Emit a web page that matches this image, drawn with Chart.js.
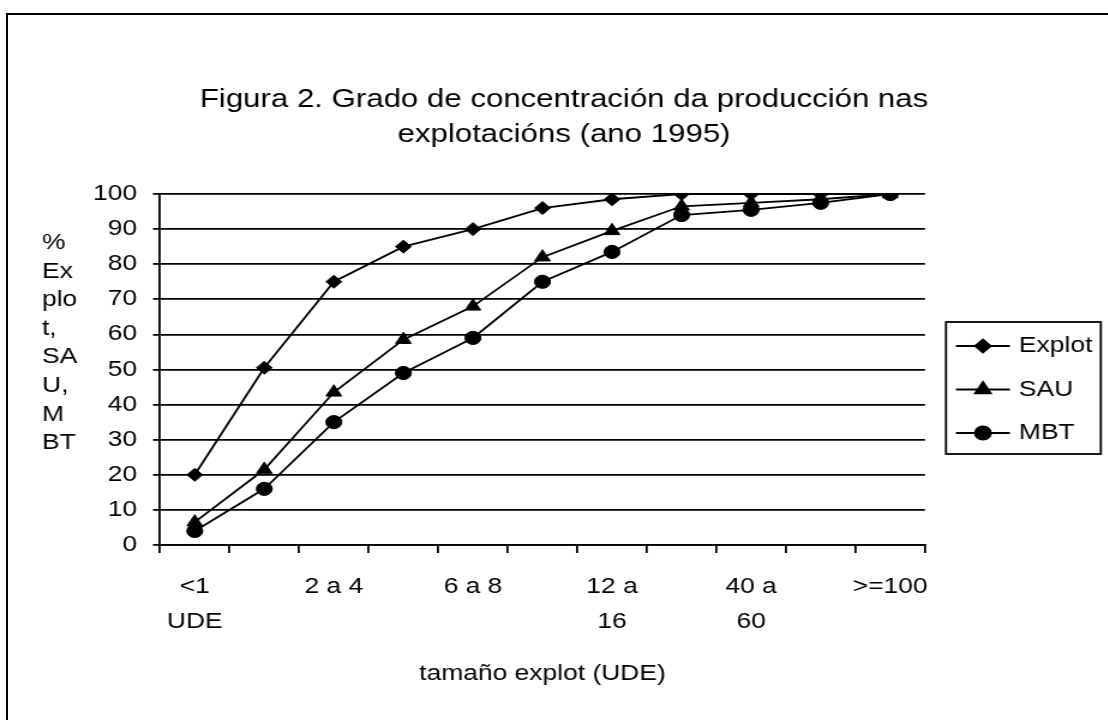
<!DOCTYPE html>
<html>
<head>
<meta charset="utf-8">
<script src="https://cdn.jsdelivr.net/npm/chart.js"></script>
<style>
  html, body { margin: 0; padding: 0; background: #fff; overflow: hidden; }
  #frame { position: absolute; left: 6px; top: 13px; width: 1200px; height: 800px; border: 2px solid #000; box-sizing: border-box; }
  /* the original picture is stretched sideways, so the canvas is too */
  #wrap { position: absolute; left: 0; top: 0; transform: scaleX(1.2); transform-origin: 0 0; }
</style>
</head>
<body>
<div id="frame"></div>
<div id="wrap"><canvas id="canvas" width="940" height="720"></canvas></div>

<script>
// categories (tamaño explot, UDE) - only every other one is labelled in the original
var categories = ['<1 UDE', '1 a 2', '2 a 4', '4 a 6', '6 a 8', '8 a 12', '12 a 16', '16 a 40', '40 a 60', '60 a 100', '>=100'];
var tickLabels = [['<1', 'UDE'], '', '2 a 4', '', '6 a 8', '', ['12 a', '16'], '', ['40 a', '60'], '', '>=100'];

// cumulative %
var explot = [20, 50.5, 75, 85, 90, 96, 98.5, 100, 100, 100, 100];
var sau    = [6.5, 21.5, 43.5, 58.5, 68, 82, 89.5, 96.5, 97.5, 98.5, 100];
var mbt    = [4, 16, 35, 49, 59, 75, 83.5, 94, 95.5, 97.5, 100];

var seriesNames = ['Explot', 'SAU', 'MBT'];
var titleLines = ['Figura 2. Grado de concentración da producción nas', 'explotacións (ano 1995)'];
var yTitleLines = ['%', 'Ex', 'plo', 't,', 'SA', 'U,', 'M', 'BT'];
var xTitle = 'tamaño explot (UDE)';

var FONT = '"Liberation Sans", Arial, sans-serif';

// title centred on the whole picture, legend box with line + marker, stacked y title
var extras = {
  id: 'extras',
  afterDraw: function(chart) {
    var ctx = chart.ctx;
    var ca = chart.chartArea;
    ctx.save();
    ctx.fillStyle = '#000';
    ctx.strokeStyle = '#000';
    ctx.textBaseline = 'middle';

    // title
    ctx.font = '26px ' + FONT;
    ctx.textAlign = 'center';
    titleLines.forEach(function(t, i) {
      ctx.fillText(t, chart.width / 2, 100 + i * 34.5);
    });

    // y title
    ctx.font = '22px ' + FONT;
    ctx.textAlign = 'left';
    yTitleLines.forEach(function(t, i) {
      ctx.fillText(t, 35, 243 + i * 28.6);
    });

    // legend
    var bx = ca.right + 17.5, by = ca.top + 128, bw = 129, bh = 132;
    ctx.lineWidth = 1.8;
    ctx.strokeRect(bx, by, bw, bh);
    chart.data.datasets.forEach(function(ds, i) {
      var y = by + 24 + i * 43.5;
      ctx.lineWidth = 1.8;
      ctx.beginPath();
      ctx.moveTo(bx + 8.3, y);
      ctx.lineTo(bx + 53.3, y);
      ctx.stroke();
      Chart.helpers.drawPoint(ctx, { pointStyle: ds.pointStyle, radius: ds.pointRadius, borderWidth: 1, rotation: 0 }, bx + 30.8, y);
      ctx.fillText(ds.label, bx + 60.8, y);
    });
    ctx.restore();
  }
};

function makeSet(label, data, style, r, order) {
  return {
    label: label,
    data: data,
    order: order,
    borderColor: '#000',
    backgroundColor: '#000',
    borderWidth: 1.8,
    tension: 0,
    pointStyle: style,
    pointRadius: r,
    pointHoverRadius: r,
    pointBackgroundColor: '#000',
    pointBorderColor: '#000',
    pointBorderWidth: 1
  };
}

var ctx = document.getElementById('canvas');
new Chart(ctx, {
  type: 'line',
  data: {
    labels: categories,
    datasets: [
      makeSet(seriesNames[0], explot, 'rectRot', 6.5, 2),
      makeSet(seriesNames[1], sau, 'triangle', 7.5, 1),
      makeSet(seriesNames[2], mbt, 'circle', 6.6, 0)
    ]
  },
  options: {
    responsive: false,
    animation: false,
    layout: { padding: { left: 0, right: 169.2, top: 194, bottom: 0 } },
    plugins: {
      legend: { display: false },
      tooltip: { enabled: false },
      title: { display: false }
    },
    scales: {
      x: {
        offset: true,
        grid: { offset: true, drawOnChartArea: false, color: '#000', lineWidth: 1.8, tickLength: 8 },
        border: { color: '#000', width: 1.8 },
        ticks: {
          autoSkip: false, maxRotation: 0, minRotation: 0, color: '#000', padding: 16.4,
          font: { family: FONT, size: 22, lineHeight: 1.6 },
          callback: function(v, i) { return tickLabels[i]; }
        },
        title: {
          display: true, text: xTitle, color: '#000',
          font: { family: FONT, size: 22, lineHeight: 1.2 },
          padding: { top: 0, bottom: 32.8 }
        },
        afterFit: function(s) { s.height = 175; }
      },
      y: {
        min: 0, max: 100,
        grid: { color: '#000', lineWidth: 1.8, tickLength: 5.8 },
        border: { color: '#000', width: 1.8 },
        ticks: { stepSize: 10, color: '#000', padding: 13.3, font: { family: FONT, size: 22 } },
        afterFit: function(s) { s.width = 133.3; }
      }
    }
  },
  plugins: [extras]
});
</script>
</body>
</html>
